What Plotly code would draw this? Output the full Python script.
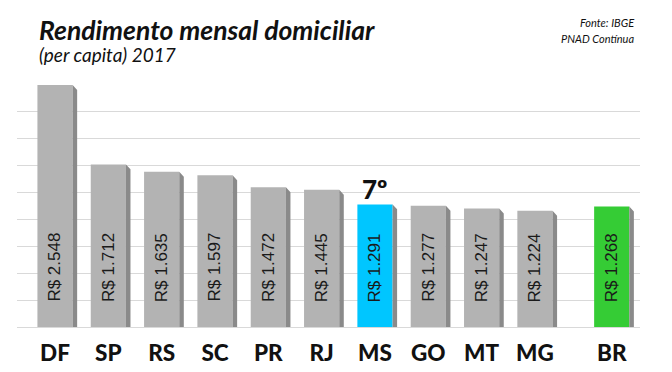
import plotly.graph_objects as go

categories = ["DF", "SP", "RS", "SC", "PR", "RJ", "MS", "GO", "MT", "MG", "BR"]
values = [2548, 1712, 1635, 1597, 1472, 1445, 1291, 1277, 1247, 1224, 1268]
value_labels = ["R$ 2.548", "R$ 1.712", "R$ 1.635", "R$ 1.597", "R$ 1.472", "R$ 1.445",
                "R$ 1.291", "R$ 1.277", "R$ 1.247", "R$ 1.224", "R$ 1.268"]
positions = [0, 1, 2, 3, 4, 5, 6, 7, 8, 9, 10.44]
bar_colors = ["#b3b3b3"] * 6 + ["#00c6ff"] + ["#b3b3b3"] * 3 + ["#35cc35"]
rank_label = "7º"
rank_index = 6

W, H = 672, 372
ML, MR, MT, MB = 17, 32, 85, 45
PW, PH = W - ML - MR, H - MT - MB


def px_x(px):
    return (px - ML) / PW


def px_y(py):
    return (H - MB - py) / PH


bar_w = 0.66
depth_x = 0.085
depth_y = 52

fig = go.Figure()
fig.add_trace(go.Bar(x=positions, y=values, width=bar_w,
                     marker=dict(color=bar_colors, line=dict(width=0)),
                     hoverinfo="skip", showlegend=False))

# 3D side faces
sx, sy = [], []
for p, v in zip(positions, values):
    r = p + bar_w / 2
    sx += [r, r + depth_x, r + depth_x, r, r, None]
    sy += [0, 0, v - depth_y, v, 0, None]
fig.add_trace(go.Scatter(x=sx, y=sy, mode="lines", fill="toself",
                         fillcolor="#8a8a8a", line=dict(width=0, color="#8a8a8a"),
                         hoverinfo="skip", showlegend=False))

for p, lab in zip(positions, value_labels):
    fig.add_annotation(x=p, y=626, xref="x", yref="y", text=lab, textangle=-90,
                       showarrow=False,
                       font=dict(family="Liberation Sans, Arial", size=17, color="#1a1a1a"))

fig.add_annotation(x=positions[rank_index], y=values[rank_index], xref="x", yref="y",
                   text=rank_label, showarrow=False, yanchor="bottom", yshift=-3,
                   font=dict(family="Lato", size=26, weight=900, color="#111111"))

fig.add_annotation(x=px_x(37), y=px_y(30), xref="paper", yref="paper", xanchor="left", yanchor="middle",
                   text="<i>Rendimento mensal domiciliar</i>", showarrow=False,
                   font=dict(family="Lato", size=26.5, weight=700, color="#111111"))
fig.add_annotation(x=px_x(37), y=px_y(55), xref="paper", yref="paper", xanchor="left", yanchor="middle",
                   text="<i>(per capita) 2017</i>", showarrow=False,
                   font=dict(family="Lato", size=19, color="#111111"))
fig.add_annotation(x=px_x(636), y=px_y(22), xref="paper", yref="paper", xanchor="right", yanchor="middle",
                   text="<i>Fonte: IBGE</i>", showarrow=False,
                   font=dict(family="Lato", size=11, color="#111111"))
fig.add_annotation(x=px_x(636), y=px_y(38), xref="paper", yref="paper", xanchor="right", yanchor="middle",
                   text="<i>PNAD Contínua</i>", showarrow=False,
                   font=dict(family="Lato", size=11, color="#111111"))

fig.update_layout(
    width=W, height=H,
    margin=dict(l=ML, r=MR, t=MT, b=MB),
    paper_bgcolor="white", plot_bgcolor="white",
    xaxis=dict(range=[-0.713, 10.97], tickmode="array", tickvals=positions, ticktext=categories,
               showgrid=False, zeroline=False, showline=False, ticks="", automargin=False,
               tickfont=dict(family="Lato", size=22.5, weight=900, color="#111111"),
               ticklabelstandoff=10),
    yaxis=dict(range=[0, 2548.5], tick0=0, dtick=2548 / 9, showticklabels=False, automargin=False,
               showgrid=True, gridcolor="#d9d9d9", gridwidth=1,
               zeroline=True, zerolinecolor="#d9d9d9", zerolinewidth=1),
)

fig.write_html("out.html", config={"displayModeBar": False},
               post_script="document.body.style.margin='0';")
